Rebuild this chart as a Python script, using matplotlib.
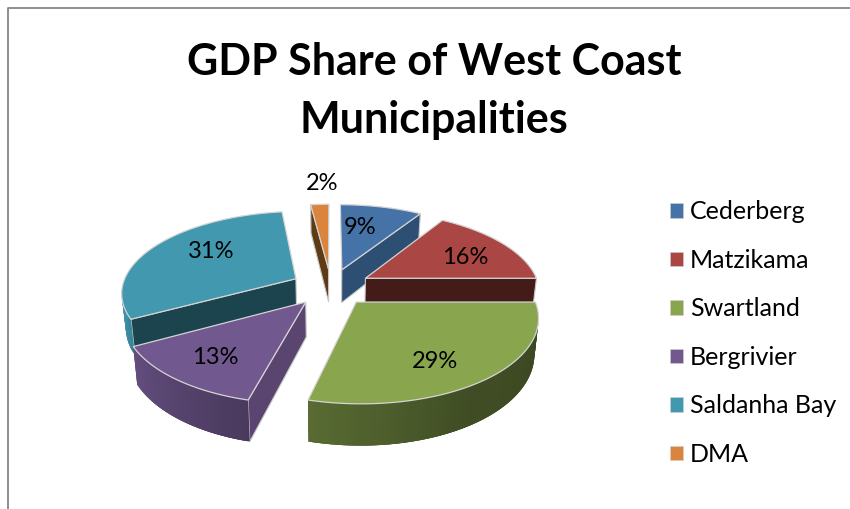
import matplotlib
matplotlib.use('Agg')
import matplotlib.pyplot as plt
import numpy as np
from matplotlib.patches import Patch, Polygon

plt.rcParams['font.family'] = ['Lato', 'DejaVu Sans']

names = ['Cederberg', 'Matzikama', 'Swartland', 'Bergrivier', 'Saldanha Bay', 'DMA']
shares = [9, 16, 29, 13, 31, 2]
colors = ['#4572A7', '#AA4643', '#89A54E', '#71588F', '#4198AF', '#DB843D']
inner_wall = ['#2D4F73', '#431C19', '#5A6C33', '#5A4570', '#1B444E', '#5E3B15']
label_xy = [(360, 228), (465, 258), (435, 361), (215, 357), (211, 251), (322, 183)]

# pie geometry in pixels, v grows towards the viewer
cx, cy = 331, 287
rx, ry = 174, 80.4
persp = 0.158
explode = 0.23
depth = 34


def project(u, v):
    w = 1 / (1 - persp * v)
    return cx + rx * u * w, cy + ry * v * w, w


def outline(a, r, mid):
    # point on the disc at clock angle a (degrees), pushed out along the slice middle
    a, mid = np.radians(a), np.radians(mid)
    return r * np.sin(a) + explode * np.sin(mid), -r * np.cos(a) - explode * np.cos(mid)


def bottom(x, y, w):
    return cx + (x - cx) * 0.98, y + depth * w


def wall_shade(a):
    return np.interp(a, [90, 150, 194, 241, 270], [0.42, 0.47, 0.65, 0.88, 1.0])


fig = plt.figure(figsize=(8.5, 5.09))
ax = fig.add_axes([0, 0, 1, 1])
ax.set_xlim(0, 850)
ax.set_ylim(509, 0)
ax.axis('off')

# frame of the chart area, only top and left are in view
ax.plot([8, 8, 850], [509, 8, 8], color='#868686', lw=1.3)

edges = np.cumsum([0] + shares) * 3.6
order = [5, 0, 1, 4, 3, 2]

for i in order:
    a0, a1 = edges[i], edges[i + 1]
    mid = (a0 + a1) / 2
    angles = np.linspace(a0, a1, 80)
    u, v = outline(angles, 1.0, mid)
    ox, oy, ow = project(u, v)
    ax_u, ax_v = outline(mid, 0.0, mid)
    px, py, pw = project(ax_u, ax_v)

    # radial faces that turn towards the viewer
    for a, facing in ((a0, np.sin(np.radians(a0)) < -1e-6), (a1, np.sin(np.radians(a1)) > 1e-6)):
        if facing:
            eu, ev = outline(a, 1.0, mid)
            ex, ey, ew = project(eu, ev)
            bx0, by0 = bottom(px, py, pw)
            bx1, by1 = bottom(ex, ey, ew)
            ax.add_patch(Polygon([(px, py), (ex, ey), (bx1, by1), (bx0, by0)], closed=True,
                                 facecolor=inner_wall[i], edgecolor='#C8C8C8', lw=0.8, zorder=2))

    # rounded outer wall, shaded along the arc; each strip runs under the next to hide seams
    base = np.array(matplotlib.colors.to_rgb(colors[i]))
    for k in range(len(angles) - 1):
        am = (angles[k] + angles[k + 1]) / 2
        if 90 <= am <= 270:
            n = min(k + 3, len(angles) - 1)
            bx0, by0 = bottom(ox[k], oy[k], ow[k])
            bx1, by1 = bottom(ox[n], oy[n], ow[n])
            ax.add_patch(Polygon([(ox[k], oy[k]), (ox[n], oy[n]), (bx1, by1), (bx0, by0)],
                                 closed=True, facecolor=base * wall_shade(am), edgecolor='none', zorder=2))

    # top of the slice
    top = np.column_stack([np.r_[px, ox], np.r_[py, oy]])
    ax.add_patch(Polygon(top, closed=True, facecolor=colors[i], edgecolor='#D4D4D4', lw=0.9, zorder=2))

for xy, s in zip(label_xy, shares):
    ax.text(xy[0], xy[1], f'{s}%', fontsize=17, ha='center', va='center', color='black', zorder=3)

ax.text(434, 91, 'GDP Share of West Coast\nMunicipalities', fontsize=31, fontweight='bold',
        ha='center', va='center', linespacing=1.55, color='black')

handles = [Patch(facecolor=c, edgecolor='#D0D0D0', lw=0.4) for c in colors]
ax.legend(handles, names, loc='center left', bbox_to_anchor=(670 / 850, 1 - 333 / 509), frameon=False,
          fontsize=18, handlelength=0.52, handleheight=0.52, handletextpad=0.28,
          labelspacing=1.02, borderpad=0, borderaxespad=0)

plt.savefig('out.png', dpi=100)
